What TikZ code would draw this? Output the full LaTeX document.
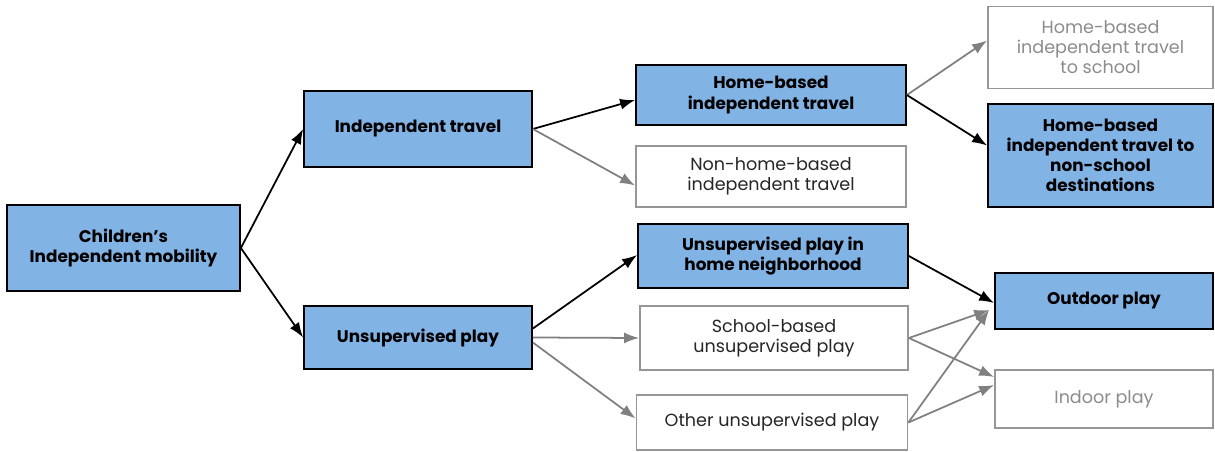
\documentclass[tikz,border=0pt]{standalone}
\usepackage{fontspec}
\setmainfont{Poppins}
\usepackage{tikz}
\usetikzlibrary{arrows.meta,positioning,calc}
\definecolor{BOXBLUE}{RGB}{130,179,229}
\definecolor{LINEGRAY}{RGB}{128,128,128}
\definecolor{BOXGRAY}{RGB}{150,150,150}
\definecolor{TEXTGRAY}{RGB}{140,140,140}
\tikzstyle{RECTANGLE_1} = [rectangle, draw=black, line width=1pt, fill=BOXBLUE, align=center, font=\fontsize{9.6}{11.4}\selectfont\bfseries]
\tikzstyle{RECTANGLE_2} = [rectangle, draw=BOXGRAY, line width=1pt, fill=white, align=center, text=black!85, font=\fontsize{10}{11.4}\selectfont]
\tikzstyle{RECTANGLE_3} = [rectangle, draw=BOXGRAY, line width=1pt, fill=white, align=center, text=TEXTGRAY, font=\fontsize{10}{11.4}\selectfont]
\tikzstyle{ARROW} = [draw, line width=1pt, -{Latex[length=3mm,width=2.2mm]}]
\tikzstyle{GRAYARROW} = [draw=LINEGRAY, line width=1pt, -{Latex[length=3mm,width=2.2mm]}]

\begin{document}
\begin{tikzpicture}
\useasboundingbox (0,0) rectangle (24.3,-9.04);
% Place node
\node [RECTANGLE_1, minimum width=4.66cm, minimum height=1.72cm] (CIM) at (2.47,-4.96) {Children's\\ Independent mobility};
\node [RECTANGLE_1, minimum width=4.56cm, minimum height=1.52cm] (IT) at (8.36,-2.58) {Independent travel};
\node [RECTANGLE_1, minimum width=4.56cm, minimum height=1.26cm] (UP) at (8.36,-6.75) {Unsupervised play};
%
\node [RECTANGLE_1, minimum width=5.4cm, minimum height=1.2cm] (HBIT) at (15.42,-1.9) {Home-based\\ independent travel};
\node [RECTANGLE_2, minimum width=5.4cm, minimum height=1.22cm] (NHBIT) at (15.42,-3.53) {Non-home-based\\ independent travel};
\node [RECTANGLE_1, minimum width=5.4cm, minimum height=1.28cm] (UPHN) at (15.46,-5.12) {Unsupervised play in\\ home neighborhood};
\node [RECTANGLE_2, minimum width=5.36cm, minimum height=1.28cm] (SBUP) at (15.48,-6.76) {School-based\\ unsupervised play};
\node [RECTANGLE_2, minimum width=5.42cm, minimum height=1.1cm] (OUP) at (15.44,-8.45) {Other unsupervised play};
%
\node [RECTANGLE_3, minimum width=4.5cm, minimum height=1.64cm] (HBITS) at (22.01,-0.95) {Home-based\\ independent travel\\ to school};
\node [RECTANGLE_1, minimum width=4.5cm, minimum height=2.06cm] (HBITNS) at (22.01,-3.11) {Home-based\\ independent travel to\\ non-school\\ destinations};
\node [RECTANGLE_1, minimum width=4.36cm, minimum height=1.12cm] (OP) at (22.08,-6.02) {Outdoor play};
\node [RECTANGLE_3, minimum width=4.36cm, minimum height=1.16cm] (IP) at (22.08,-7.98) {Indoor play};
% LINES and ARROWS
\path [ARROW] (CIM.east) -- (IT.west);
\path [ARROW] (CIM.east) -- (UP.west);
\path [ARROW] (IT.east) -- ([yshift=-0.1cm]HBIT.west);
\path [GRAYARROW] (IT.east) -- ([yshift=-0.18cm]NHBIT.west);
\path [GRAYARROW] (HBIT.east) -- ([yshift=0.14cm]HBITS.west);
\path [ARROW] (HBIT.east) -- ([yshift=0.2cm]HBITNS.west);
%
\path [ARROW] ([yshift=0.18cm]UP.east) -- ([yshift=0.02cm]UPHN.west);
\path [GRAYARROW] (UP.east) -- (SBUP.west);
\path [GRAYARROW] ([yshift=-0.1cm]UP.east) -- ([yshift=0.08cm]OUP.west);
\path [ARROW] (UPHN.east) -- ([yshift=-0.04cm]OP.west);
\path [GRAYARROW] (SBUP.east) -- ([xshift=-0.1cm,yshift=-0.18cm]OP.west);
\path [GRAYARROW] (SBUP.east) -- ([yshift=0.44cm]IP.west);
\path [GRAYARROW] (OUP.east) -- ([xshift=-0.1cm,yshift=-0.18cm]OP.west);
\path [GRAYARROW] (OUP.east) -- ([yshift=0.28cm]IP.west);
\end{tikzpicture}
\end{document}
